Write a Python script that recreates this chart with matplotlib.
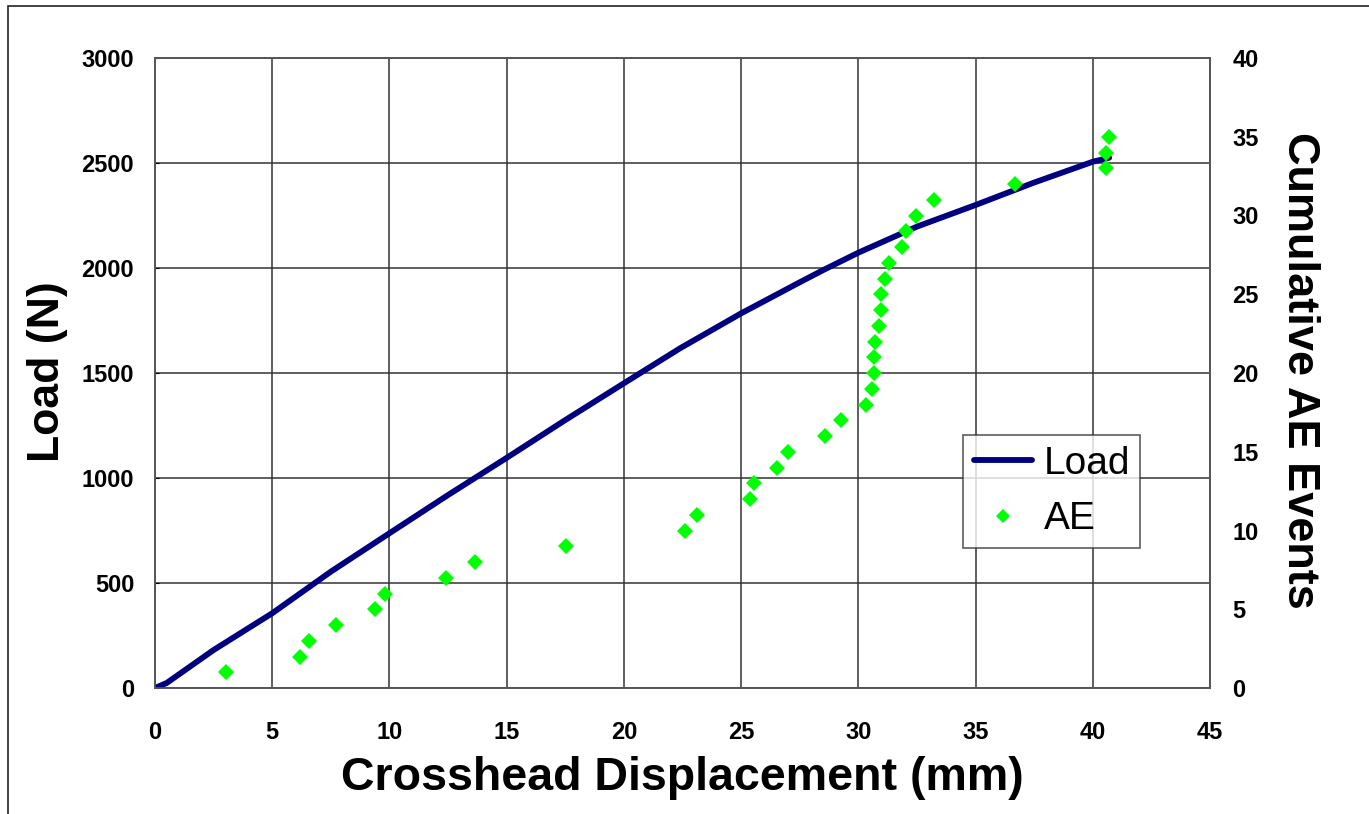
import matplotlib
matplotlib.use("Agg")
import matplotlib.pyplot as plt
from matplotlib.patches import Rectangle

plt.rcParams['font.family'] = ['Liberation Sans', 'DejaVu Sans']

# Load curve (crosshead displacement in mm, load in N)
disp = [0, 0.5, 2.5, 5, 7.5, 10, 12.5, 15, 17.5, 20, 22.4, 25, 27.5,
        28.5, 30, 32.5, 35, 37.5, 40, 40.7]
load = [0, 24, 181, 356, 554, 737, 919, 1096, 1276, 1451, 1618, 1784, 1932,
        1990, 2073, 2197, 2300, 2407, 2506, 2525]

# Acoustic emission events (displacement, cumulative count)
ae_disp = [3.03, 6.18, 6.57, 7.74, 9.39, 9.81, 12.43, 13.63, 17.54, 22.6,
           23.1, 25.39, 25.55, 26.55, 26.98, 28.59, 29.28, 30.32, 30.58, 30.65,
           30.68, 30.7, 30.88, 30.98, 30.95, 31.12, 31.32, 31.88, 32.03, 32.45,
           33.23, 36.7, 40.58, 40.58, 40.69]
ae_count = list(range(1, len(ae_disp) + 1))

fig = plt.figure(figsize=(13.69, 8.14), dpi=100)
ax = fig.add_axes([155 / 1369, 1 - 688 / 814, 1055 / 1369, 630 / 814])
ax2 = ax.twinx()

# cadre extérieur façon Excel
fig.patches.append(Rectangle((8 / 1369, -0.05), 1.1, (814 - 6) / 814 + 0.05,
                             transform=fig.transFigure, fill=False,
                             edgecolor='#222222', linewidth=1.2))

l1, = ax.plot(disp, load, color='#000080', linewidth=4.2, label='Load',
              solid_capstyle='round', zorder=3)
l2, = ax2.plot(ae_disp, ae_count, linestyle='none', marker='D', markersize=8.5,
               color='#00ff00', markeredgewidth=0, label='AE', zorder=4)

ax.set_xlim(0, 45)
ax.set_ylim(0, 3000)
ax2.set_ylim(0, 40)
ax.set_xticks(range(0, 46, 5))
ax.set_yticks(range(0, 3001, 500))
ax2.set_yticks(range(0, 41, 5))

ax.grid(True, color='#333333', linewidth=1.1)
ax.set_axisbelow(True)

for a in (ax, ax2):
    for s in a.spines.values():
        s.set_color('#555555')
        s.set_linewidth(1.2)

ax.tick_params(axis='x', length=0, pad=24, labelsize=17)
ax.tick_params(axis='y', direction='in', length=3, pad=15, labelsize=17)
ax2.tick_params(axis='y', length=0, pad=16, labelsize=17)
for lab in ax.get_xticklabels() + ax.get_yticklabels() + ax2.get_yticklabels():
    lab.set_fontweight('bold')

ax.set_xlabel("Crosshead Displacement (mm)", fontsize=33.5, fontweight='bold')
ax.xaxis.set_label_coords(0.5, (688 - 778) / 630)
ax.xaxis.label.set_va('center')
ax.set_ylabel("Load (N)", fontsize=32, fontweight='bold')
ax.yaxis.set_label_coords((48 - 155) / 1055, (688 - 372) / 630)
ax.yaxis.label.set_va('center')
ax2.set_ylabel("Cumulative AE Events", fontsize=32.5, fontweight='bold',
               rotation=270)
ax2.yaxis.set_label_coords((1300 - 155) / 1055, (688 - 370) / 630)
ax2.yaxis.label.set_va('center')

leg = ax.legend(handles=[l1, l2], loc='upper left',
                bbox_to_anchor=((963 - 155) / 1055, (688 - 435) / 630,
                                177 / 1055, 0),
                mode='expand', fontsize=28, frameon=True, fancybox=False,
                edgecolor='#333333', handlelength=1.5, handletextpad=0.3,
                borderpad=0.28, labelspacing=0.5, borderaxespad=0,
                markerscale=0.8)
leg.get_frame().set_linewidth(1.2)
leg.set_zorder(10)

fig.savefig("out.png", dpi=100)
